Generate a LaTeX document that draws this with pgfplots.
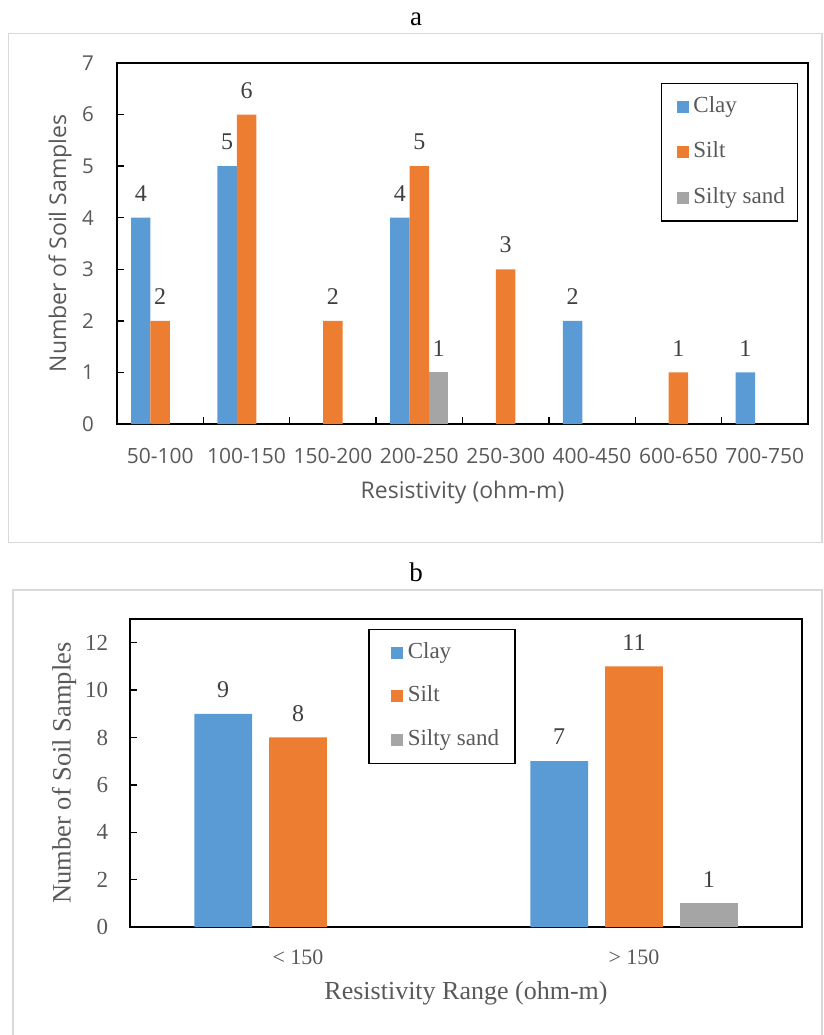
\documentclass[border=0pt]{standalone}
\usepackage{fontspec}
\setmainfont{Liberation Serif}
\newfontfamily\osans{Open Sans}
\usepackage{pgfplots}
\pgfplotsset{compat=1.18}
\definecolor{clay}{RGB}{91,155,213}
\definecolor{silt}{RGB}{237,125,49}
\definecolor{sand}{RGB}{165,165,165}
\definecolor{tickgray}{HTML}{595959}
\definecolor{labelgray}{HTML}{404040}
\definecolor{framegray}{HTML}{D9D9D9}
\newcommand{\fs}[1]{\fontsize{#1pt}{#1pt}\selectfont}

\begin{document}
\begin{tikzpicture}
\useasboundingbox (0,0) rectangle (823pt,-1035pt);
\draw[framegray, line width=1.4pt] (8.5pt,-33.5pt) rectangle (822pt,-542.5pt);
\draw[framegray, line width=1.4pt] (13pt,-1040pt) -- (13pt,-590pt) -- (822pt,-590pt) -- (822pt,-1040pt);
\node[font=\fs{27}, anchor=base] at (416pt,-26pt) {a};
\node[font=\fs{27}, anchor=base] at (416pt,-581pt) {b};

% ---------------- panel a ----------------
\begin{axis}[
  at={(117pt,-424pt)}, anchor=south west, scale only axis,
  width=691pt, height=361pt,
  xmin=-0.5, xmax=7.5, ymin=0, ymax=7,
  ybar,
  xtick={-0.5,0.5,...,7.5}, x tick label as interval,
  xticklabels={{50-100},{100-150},{150-200},{200-250},{250-300},{400-450},{600-650},{700-750}},
  ytick={0,1,...,7},
  xtick pos=left, ytick pos=left, tick align=inside,
  major tick length=6.7pt, tick style={black, line width=1.4pt},
  axis line style={black, line width=1.6pt},
  /pgf/number format/assume math mode=true,
  xticklabel style={font=\osans\fs{21}, text=tickgray, anchor=base, yshift=-39pt, inner sep=0pt},
  yticklabel style={font=\osans\fs{20.5}, text=tickgray, anchor=east, xshift=-23pt, inner sep=0pt},
  xlabel={Resistivity (ohm-m)},
  xlabel style={font=\osans\fs{23}, text=tickgray, at={(axis description cs:0.5,-0.205)}, anchor=base},
  ylabel={Number of Soil Samples},
  ylabel style={font=\osans\fs{23}, text=tickgray, at={(axis description cs:-0.0825,0.5)}, anchor=center},
  nodes near coords,
  every node near coord/.append style={font=\fs{24}, text=labelgray, anchor=south, inner sep=0pt, yshift=16pt},
  legend cell align=left,
  legend style={at={(axis description cs:0.7868,0.9455)}, anchor=north west, draw=black, line width=1.5pt,
    font=\fs{23}, inner xsep=12.6pt, inner ysep=12.6pt, row sep=24.8pt, column sep=4pt,
    nodes={inner sep=0pt, text height=16pt, text depth=5pt, anchor=west, text=tickgray}},
  legend image code/.code={\path (0pt,0pt); \fill[#1, draw=none] (3.4pt,-6pt) rectangle (15.4pt,6pt);},
]
\addplot[fill=clay, draw=none, bar width=0.225, bar shift=-0.225] coordinates {(0,4) (1,5) (3,4) (5,2) (7,1)};
\addplot[fill=silt, draw=none, bar width=0.225, bar shift=0] coordinates {(0,2) (1,6) (2,2) (3,5) (4,3) (6,1)};
\addplot[fill=sand, draw=none, bar width=0.225, bar shift=0.225] coordinates {(3,1)};
\legend{Clay, Silt, Silty sand}
\end{axis}

% ---------------- panel b ----------------
\begin{axis}[
  at={(130pt,-927pt)}, anchor=south west, scale only axis,
  width=672pt, height=308pt,
  xmin=-0.5, xmax=1.5, ymin=0, ymax=13,
  ybar,
  xtick={0,1}, xticklabels={{< 150},{> 150}},
  ytick={0,2,...,12},
  xtick pos=left, ytick pos=left, tick align=inside,
  xtick style={draw=none},
  major tick length=6.7pt, ytick style={black, line width=1.4pt},
  axis line style={black, line width=1.6pt},
  /pgf/number format/assume math mode=true,
  xticklabel style={font=\fs{22}, text=tickgray, anchor=base, yshift=-37pt, inner sep=0pt},
  yticklabel style={font=\fs{23}, text=tickgray, anchor=east, xshift=-21.7pt, inner sep=0pt},
  xlabel={Resistivity Range (ohm-m)},
  xlabel style={font=\fs{26}, text=tickgray, at={(axis description cs:0.5,-0.235)}, anchor=base},
  ylabel={Number of Soil Samples},
  ylabel style={font=\fs{26.5}, text=tickgray, at={(axis description cs:-0.0982,0.5)}, anchor=center},
  nodes near coords,
  every node near coord/.append style={font=\fs{24}, text=labelgray, anchor=south, inner sep=0pt, yshift=16pt},
  legend cell align=left,
  legend style={at={(axis description cs:0.3542,0.969)}, anchor=north west, draw=black, line width=1.5pt,
    font=\fs{23}, inner xsep=15.6pt, inner ysep=13.2pt, row sep=22.3pt, column sep=5pt,
    nodes={inner sep=0pt, text height=16pt, text depth=5pt, anchor=west, text=tickgray}},
  legend image code/.code={\path (0pt,0pt); \fill[#1, draw=none] (6.4pt,-6pt) rectangle (18.4pt,6pt);},
]
\addplot[fill=clay, draw=none, bar width=0.1725, bar shift=-0.2225] coordinates {(0,9) (1,7)};
\addplot[fill=silt, draw=none, bar width=0.1725, bar shift=0] coordinates {(0,8) (1,11)};
\addplot[fill=sand, draw=none, bar width=0.1725, bar shift=0.2225] coordinates {(1,1)};
\legend{Clay, Silt, Silty sand}
\end{axis}
\end{tikzpicture}
\end{document}
